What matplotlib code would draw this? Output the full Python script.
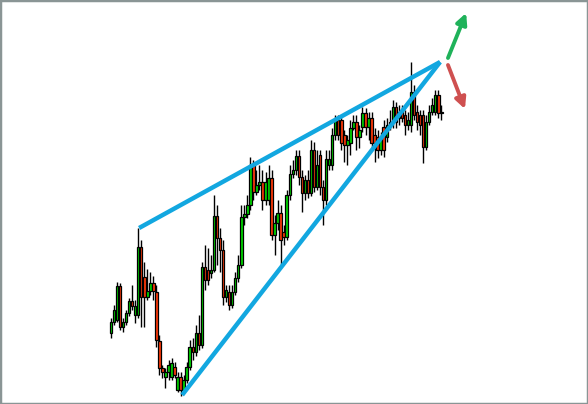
import matplotlib
matplotlib.use("Agg")
import matplotlib.pyplot as plt
from matplotlib.patches import Rectangle
import numpy as np

# ---- data: candles (price levels) ----
opens = [67, 78, 80, 114, 73, 78, 87, 99, 85, 85, 153, 123, 103, 109, 117, 108, 59, 32, 23, 28,
         23, 33, 10, 23, 10, 20, 33, 53, 48, 67, 55, 133, 130, 127, 130, 184, 162, 150, 103, 108,
         95, 108, 122, 135, 183, 186, 195, 235, 208, 215, 218, 200, 200, 222, 165, 177, 187, 168, 163, 205,
         226, 230, 244, 223, 207, 220, 207, 250, 213, 245, 213, 200, 235, 235, 265, 280, 280, 265, 255, 257,
         272, 278, 263, 273, 287, 273, 282, 265, 263, 250, 273, 263, 275, 278, 293, 282, 288, 285, 275, 275,
         308, 288, 285, 285, 253, 278, 288, 288, 305, 287]
closes = [78, 90, 114, 73, 78, 87, 99, 94, 94, 153, 103, 103, 109, 117, 109, 60, 32, 28, 28, 35,
          37, 25, 23, 10, 20, 33, 53, 48, 67, 55, 133, 120, 120, 130, 184, 162, 150, 103, 110, 95,
          108, 122, 135, 183, 186, 195, 235, 208, 215, 218, 200, 218, 222, 165, 177, 187, 160, 163, 205, 226,
          230, 244, 223, 207, 220, 207, 250, 213, 235, 213, 200, 241, 241, 265, 280, 265, 257, 255, 260, 272,
          278, 263, 270, 287, 273, 282, 257, 257, 250, 263, 250, 275, 278, 293, 278, 288, 282, 275, 280, 308,
          285, 278, 275, 253, 278, 288, 295, 305, 287, 287]
highs = [82, 95, 118, 117, 82, 90, 102, 115, 100, 172, 160, 138, 131, 128, 124, 115, 65, 35, 32, 40,
         42, 38, 28, 28, 25, 38, 60, 62, 75, 85, 138, 155, 152, 145, 205, 195, 172, 160, 115, 115,
         115, 128, 145, 195, 195, 205, 243, 240, 230, 235, 230, 228, 235, 230, 185, 200, 195, 175, 210, 235,
         240, 250, 250, 230, 225, 230, 260, 258, 250, 250, 220, 250, 250, 272, 285, 285, 285, 270, 265, 280,
         285, 285, 275, 293, 292, 288, 288, 272, 270, 268, 280, 282, 290, 300, 298, 295, 295, 290, 288, 338,
         315, 295, 290, 290, 285, 295, 302, 310, 310, 295]
lows = [62, 75, 78, 70, 68, 75, 84, 90, 77, 82, 73, 73, 100, 105, 100, 53, 25, 22, 12, 20,
        20, 22, 8, 4, 7, 17, 30, 40, 44, 50, 52, 110, 115, 122, 128, 135, 128, 95, 98, 90,
        92, 105, 118, 132, 175, 182, 190, 200, 205, 210, 190, 195, 195, 160, 145, 170, 135, 155, 160, 200,
        222, 225, 215, 188, 200, 202, 204, 208, 210, 205, 175, 195, 230, 230, 260, 260, 250, 238, 235, 245,
        270, 250, 252, 268, 265, 260, 250, 238, 242, 245, 243, 258, 270, 272, 272, 275, 278, 265, 270, 268,
        280, 270, 265, 237, 250, 275, 285, 285, 282, 280]

# wedge lines: (candle index, price) at start and apex
upper_start = (9.3, 172)
lower_start = (23.5, 5)
apex = (108.6, 338)

BLUE = "#12a7e0"
UP = "#00d900"
DOWN = "#ff3a0a"

fig = plt.figure(figsize=(5.88, 4.04), dpi=100)
ax = fig.add_axes([0, 0, 1, 1])
ax.set_xlim(-36.6, 157.4)
ax.set_ylim(-4, 400)
ax.axis("off")

o = np.array(opens)
c = np.array(closes)
h = np.array(highs)
l = np.array(lows)
x = np.arange(len(o))

ax.vlines(x, l, h, color="black", lw=1.0, zorder=2)

colors = []
for oo, cc in zip(o, c):
    if cc > oo:
        colors.append(UP)
    elif cc < oo:
        colors.append(DOWN)
    else:
        colors.append("#999999")
bottoms = np.minimum(o, c)
heights = np.maximum(np.abs(c - o), 1.2)
ax.bar(x, heights, bottom=bottoms, width=0.82, color=colors,
       edgecolor="black", linewidth=0.9, zorder=3)

# rising wedge
ax.plot([upper_start[0], apex[0]], [upper_start[1], apex[1]], color=BLUE, lw=3.2,
        solid_capstyle="butt", zorder=4)
ax.plot([lower_start[0], apex[0]], [lower_start[1], apex[1]], color=BLUE, lw=3.2,
        solid_capstyle="butt", zorder=4)

# breakout arrows
ax.annotate("", xy=(apex[0] + 8.6, apex[1] + 49), xytext=(apex[0] + 2.6, apex[1] + 4),
            arrowprops=dict(arrowstyle="-|>", color="#1fb25a", lw=2.8, mutation_scale=16,
                            shrinkA=0, shrinkB=0))
ax.annotate("", xy=(apex[0] + 8.2, apex[1] - 47), xytext=(apex[0] + 2.6, apex[1] - 3),
            arrowprops=dict(arrowstyle="-|>", color="#cf5050", lw=2.8, mutation_scale=16,
                            shrinkA=0, shrinkB=0))

fig.patches.append(Rectangle((0, 0), 1, 1, transform=fig.transFigure, fill=False,
                             edgecolor="#8a9595", lw=2.5))

fig.savefig("out.png", dpi=100)
